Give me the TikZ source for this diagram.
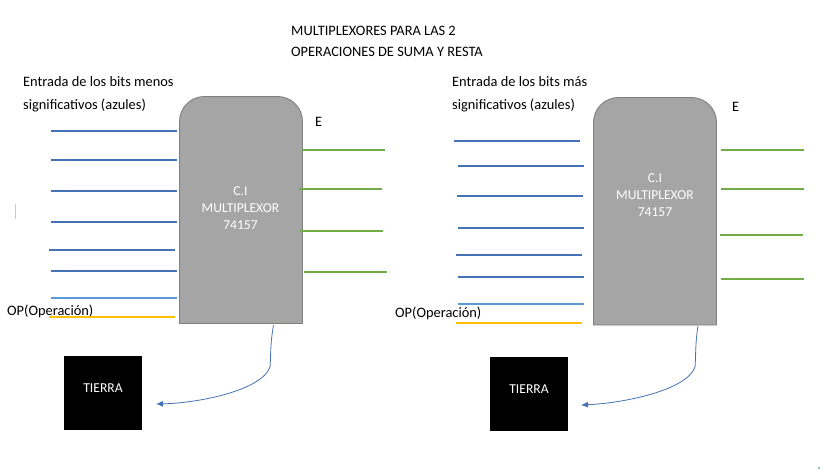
\documentclass[tikz,border=0pt]{standalone}
\usepackage{fontspec}
\setmainfont{Carlito}
\usetikzlibrary{arrows.meta}
\definecolor{bluew}{HTML}{4472B4}
\definecolor{lightw}{HTML}{5B9BD5}
\definecolor{greenw}{HTML}{70AD47}
\definecolor{yellw}{HTML}{FFC000}
\definecolor{chipg}{HTML}{A5A5A5}
\definecolor{chipe}{HTML}{7F7F7F}
\tikzset{
  lbl/.style={anchor=base west,inner sep=0pt,font=\fontsize{14.4}{17}\selectfont,text=black},
  chiplbl/.style={align=center,text=white,font=\fontsize{13.6}{17.3}\selectfont,inner sep=0pt},
  chipbody/.style={fill=chipg,draw=chipe,line width=0.9pt},
  gnd/.style={fill=black,draw=none,text=white,inner sep=0pt,font=\fontsize{13.6}{16}\selectfont,minimum width=78pt,minimum height=74pt},
  bw/.style={draw=bluew,line width=1.5pt},
  lw/.style={draw=lightw,line width=1.5pt},
  gw/.style={draw=greenw,line width=1.5pt},
  yw/.style={draw=yellw,line width=1.5pt},
  cw/.style={draw=bluew,line width=0.8pt,-{Latex[length=7pt,width=6pt]}}
}
\begin{document}
\begin{tikzpicture}[x=1pt,y=-1pt]
\useasboundingbox (0,0) rectangle (821,476);
\node[lbl] (t1) at (291,35.5) {MULTIPLEXORES PARA LAS 2};
\node[lbl] (t2) at (291,57) {OPERACIONES DE SUMA Y RESTA};
% left chip
\path[chipbody] (179.5,323.5) -- (179.5,121.5) .. controls (179.5,107.7) and (190.7,96.5) .. (204.5,96.5) -- (277.5,96.5) .. controls (291.3,96.5) and (302.5,107.7) .. (302.5,121.5) -- (302.5,323.5) -- cycle;
\node[chiplbl] (cl) at (240.5,208) {C.I\\MULTIPLEXOR\\74157};
\node[lbl] (l1) at (23,87) {Entrada de los bits menos};
\node[lbl] (l2) at (23,110) {significativos (azules)};
\node[lbl] (el) at (315,126) {E};
\node[lbl] (opl) at (7,315) {OP(Operación)};
\node[gnd] (gl) at (103,393) {\raisebox{10pt}{TIERRA}};
\foreach \n/\a/\b/\y/\s in {a/51/177/131/bw,b/51/177/160/bw,c/51/177/191/bw,d/51/177/222/bw,e/49/175/250/bw,f/51/177/271/bw,g/51/177/298/lw,h/49/175/317/yw,i/302/385/150/gw,j/299/382/189/gw,k/300/383/231/gw,m/304/387/272/gw}{
  \coordinate (L\n s) at (\a,\y);
  \coordinate (L\n e) at (\b,\y);
  \draw[\s] (L\n s) -- (L\n e);
}
\coordinate (lcs) at (273.5,325);
\coordinate (lce) at (156,404);
\draw[cw] (lcs) .. controls (270,345) and (271,355) .. (270,367) .. controls (262,390) and (200,403) .. (lce);
% right chip
\path[chipbody] (593.5,325) -- (593.5,122.5) .. controls (593.5,108.7) and (604.7,97.5) .. (618.5,97.5) -- (691.5,97.5) .. controls (705.3,97.5) and (716.5,108.7) .. (716.5,122.5) -- (716.5,325) -- cycle;
\node[chiplbl] (cr) at (655,195) {C.I\\MULTIPLEXOR\\74157};
\node[lbl] (r1) at (452,87) {Entrada de los bits más};
\node[lbl] (r2) at (452,110) {significativos (azules)};
\node[lbl] (er) at (732,111) {E};
\node[lbl] (opr) at (395,317) {OP(Operación)};
\node[gnd] (gr) at (529,394) {\raisebox{10pt}{TIERRA}};
\foreach \n/\a/\b/\y/\s in {a/454/580/141/bw,b/458/584/166/bw,c/457/583/196/bw,d/458/584/228/bw,e/456/582/255/bw,f/458/584/277/bw,g/458/584/304/lw,h/456/582/323/yw,i/721/804/150/gw,j/721/804/189/gw,k/720/803/235/gw,m/721/804/279/gw}{
  \coordinate (R\n s) at (\a,\y);
  \coordinate (R\n e) at (\b,\y);
  \draw[\s] (R\n s) -- (R\n e);
}
\coordinate (rcs) at (698,326);
\coordinate (rce) at (581,405);
\draw[cw] (rcs) .. controls (695,345) and (696,355) .. (695,367) .. controls (687,390) and (625,403) .. (rce);
% stray marks
\draw[draw=black!20,line width=0.7pt] (15.5,204) -- (15.5,219);
\fill[bluew] (819,468) circle (0.8pt);
\end{tikzpicture}
\end{document}
